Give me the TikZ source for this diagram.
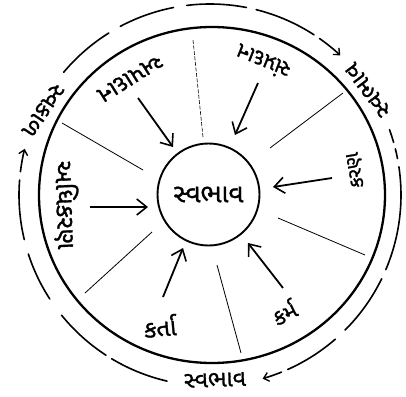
\documentclass[tikz,border=0pt]{standalone}
\usepackage{fontspec}
\newfontfamily\guj[Script=Gujarati,FakeBold=1.2]{Noto Sans Gujarati UI}
\usetikzlibrary{arrows.meta,shapes.geometric}
\tikzset{
  ringline/.style={line width=1.6pt, line cap=round},
  spokeline/.style={line width=0.8pt},
  inarrow/.style={line width=1.8pt, -{Straight Barb[length=10pt,width=16pt,line width=1.6pt]}},
  outarrow/.style={line width=1.6pt, line cap=round, -{Straight Barb[length=5pt,width=9pt,line width=1.4pt]}},
  lbl/.style={font=\guj\fontsize{#1}{#1}\selectfont, inner sep=0pt},
  lbl/.default=22,
}
\begin{document}
\begin{tikzpicture}[x=1pt,y=-1pt]
\useasboundingbox (0,0) rectangle (406,396);
\fill[white] (0,0) rectangle (406,396);
\coordinate (O) at (210,195);
% big wheel and hub
\node[ellipse, draw, line width=2.3pt, minimum width=346pt, minimum height=336pt, inner sep=0pt] (big) at (212,195) {};
\node[circle, draw, line width=1.9pt, minimum size=102pt, inner sep=0pt, lbl=26] (c) at (208.5,194.5) {સ્વભાવ};
% spokes
\coordinate (s1a) at (203,137); \coordinate (s1b) at (193,40);
\coordinate (s2a) at (270,148); \coordinate (s2b) at (343,93);
\coordinate (s3a) at (278,218); \coordinate (s3b) at (365,255);
\coordinate (s4a) at (217,265); \coordinate (s4b) at (241,353);
\coordinate (s5a) at (152,232); \coordinate (s5b) at (85,293);
\coordinate (s6a) at (143,170); \coordinate (s6b) at (62,123);
\draw[spokeline, line width=0.6pt, dash pattern=on 4pt off 1.5pt] (s1a) -- (s1b);
\draw[spokeline] (s2a) -- (s2b);
\draw[spokeline] (s3a) -- (s3b);
\draw[spokeline] (s4a) -- (s4b);
\draw[spokeline] (s5a) -- (s5b);
\draw[spokeline] (s6a) -- (s6b);
% inward arrows
\coordinate (a1s) at (138,98);  \coordinate (a1e) at (173,147);
\coordinate (a2s) at (258,83);  \coordinate (a2e) at (235,135);
\coordinate (a3s) at (332,178); \coordinate (a3e) at (273,187);
\coordinate (a4s) at (283,288); \coordinate (a4e) at (248,243);
\coordinate (a5s) at (163,297); \coordinate (a5e) at (183,248);
\coordinate (a6s) at (90,207);  \coordinate (a6e) at (148,207);
\draw[inarrow] (a1s) -- (a1e);
\draw[inarrow] (a2s) -- (a2e);
\draw[inarrow] (a3s) -- (a3e);
\draw[inarrow] (a4s) -- (a4e);
\draw[inarrow] (a5s) -- (a5e);
\draw[inarrow] (a6s) -- (a6e);
% sector labels
\node[lbl=24, rotate=-148] (lapadan) at (130,78) {અપાદાન};
\node[lbl=22, rotate=158] (lsampradan) at (263,62) {સંપ્રદાન};
\node[lbl=20, rotate=100] (lkaran) at (356,170) {કરણ};
\node[lbl=22, rotate=27] (lkarma) at (284,312) {કર્મ};
\node[lbl=24, rotate=5] (lkarta) at (160,326) {કર્તા};
\node[lbl=25, rotate=-88] (ladhikaran) at (66,205) {અધિકરણ};
% outer ring
\foreach \a/\b in {-97/-79, -118/-101, -140/-122, 166.5/184.5, 147/162, 123/141, 103/121, 49/66, 26/45, -8.5/23, -20/-16, -14/-11, -76/-57}
  \draw[ringline] (O) ++(\a:191) arc[start angle=\a, end angle=\b, radius=191];
\draw[outarrow] (O) ++(187:191) arc[start angle=187, end angle=194, radius=191];
\draw[outarrow] (O) ++(-55:191) arc[start angle=-55, end angle=-47, radius=191];
\draw[outarrow] (O) ++(68:191) arc[start angle=68, end angle=74, radius=191];
\node[lbl=23, rotate=236] (otl) at (43,110) {સ્વકાળ};
\node[lbl=23, rotate=127] (otr) at (368,90) {સ્વભાવ};
\node[lbl=23, rotate=2] (ob) at (215,380) {સ્વભાવ};
\end{tikzpicture}
\end{document}
